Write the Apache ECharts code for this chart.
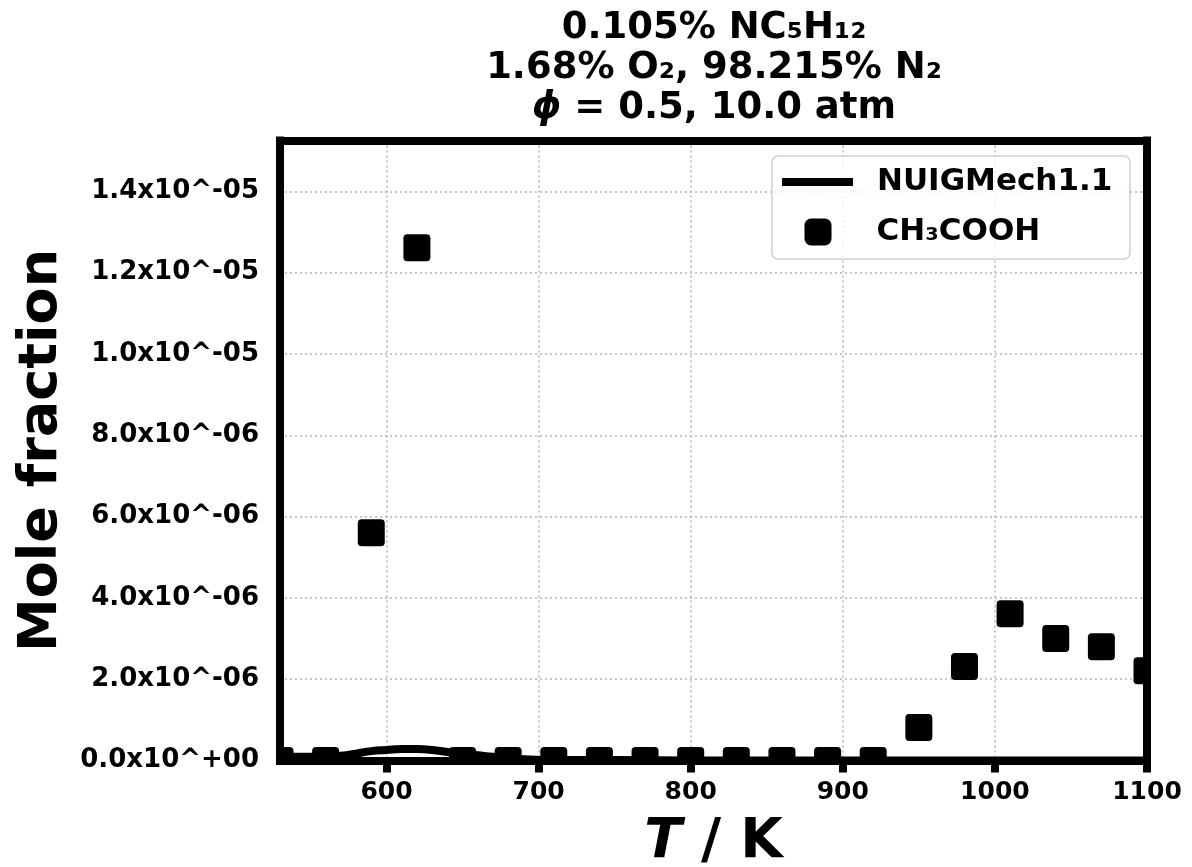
<!DOCTYPE html>
<html>
<head>
<meta charset="utf-8">
<script src="https://cdn.jsdelivr.net/npm/echarts@6/dist/echarts.min.js"></script>
<style>
  html, body { margin: 0; padding: 0; background: #ffffff; }
  #chart { width: 1192px; height: 867px; }
</style>
</head>
<body>
<div id="chart"></div>
<script>
// Temperature ticks (K) and mole-fraction ticks
const tempTicks = [600, 700, 800, 900, 1000, 1100];
const moleTicks = [0, 2e-6, 4e-6, 6e-6, 8e-6, 1.0e-5, 1.2e-5, 1.4e-5];

// Measured CH3COOH mole fractions (jet-stirred reactor)
const expT = [530, 560, 590, 620, 650, 680, 710, 740, 770, 800, 830, 860, 890, 920, 950, 980, 1010, 1040, 1070, 1100];
const expCH3COOH = [0, 0, 5.60e-6, 1.261e-5, 0, 0, 0, 0, 0, 0, 0, 0, 0, 0, 0.81e-6, 2.31e-6, 3.61e-6, 3.00e-6, 2.80e-6, 2.21e-6];

// NUIGMech1.1 simulation
const modelT = [530, 540, 550, 560, 570, 580, 590, 600, 610, 620, 630, 640, 650, 660, 670, 680, 690, 700, 750, 800, 850, 900, 950, 1000, 1050, 1100];
const modelCH3COOH = [0.09e-6, 0.09e-6, 0.09e-6, 0.10e-6, 0.12e-6, 0.17e-6, 0.23e-6, 0.26e-6, 0.28e-6, 0.28e-6, 0.26e-6, 0.21e-6, 0.17e-6, 0.13e-6, 0.09e-6, 0.06e-6, 0.03e-6, 0.02e-6, 0.01e-6, 0, 0, 0, 0, 0, 0, 0];

const FONT = 'DejaVu Sans';
const SERIES_MODEL = 'NUIGMech1.1';
const SERIES_EXP = 'CH\u2083COOH';

function sciLabel(v) {
  const parts = v.toExponential(1).split('e');
  const n = parseInt(parts[1], 10);
  return parts[0] + 'x10^' + (n < 0 ? '-' : '+') + String(Math.abs(n)).padStart(2, '0');
}

const gridLine = { show: true, lineStyle: { color: '#b3b3b3', width: 1.5, type: [2, 3] } };
const frameLine = { show: true, onZero: false, lineStyle: { color: '#000', width: 8, cap: 'square' } };
const boldText = { fontFamily: FONT, fontWeight: 'bold', color: '#000' };

const chart = echarts.init(document.getElementById('chart'), null, { renderer: 'canvas' });

chart.setOption({
  animation: false,
  backgroundColor: '#ffffff',
  title: {
    text: '0.105% NC\u2085H\u2081\u2082\n1.68% O\u2082, 98.215% N\u2082\n{phi|\u03D5} = 0.5, 10.0 atm',
    left: 714,
    top: 8,
    padding: 0,
    textAlign: 'center',
    textStyle: Object.assign({}, boldText, {
      fontSize: 37, lineHeight: 40,
      rich: { phi: { fontFamily: FONT, fontWeight: 'bold', fontStyle: 'italic', fontSize: 37, lineHeight: 40, color: '#000' } }
    })
  },
  grid: {
    left: 280, right: 45, top: 140.5, bottom: 106.5,
    show: false, containLabel: false, outerBoundsMode: 'none'
  },
  xAxis: [
    {
      type: 'value', min: 530, max: 1100, position: 'bottom',
      name: '{t|T} / K',
      nameLocation: 'middle', nameGap: 55,
      nameTextStyle: Object.assign({}, boldText, {
        fontSize: 55,
        rich: { t: { fontFamily: FONT, fontWeight: 'bold', fontStyle: 'italic', fontSize: 55, color: '#000' } }
      }),
      axisLine: frameLine,
      axisTick: { show: true, inside: false, length: 12, customValues: tempTicks, lineStyle: { color: '#000', width: 8 } },
      axisLabel: Object.assign({}, boldText, { fontSize: 25, margin: 19, customValues: tempTicks, formatter: v => String(v) }),
      splitLine: gridLine
    },
    {
      // top edge of the frame
      type: 'value', min: 530, max: 1100, position: 'top',
      axisLine: frameLine,
      axisTick: { show: false }, axisLabel: { show: false }, splitLine: { show: false }
    }
  ],
  yAxis: [
    {
      type: 'value', min: 0, max: 1.525e-5, position: 'left',
      name: 'Mole fraction',
      nameLocation: 'middle', nameRotate: 90, nameGap: 210,
      nameTextStyle: Object.assign({}, boldText, { fontSize: 54 }),
      axisLine: frameLine,
      axisTick: { show: false, customValues: moleTicks.slice(1) },
      axisLabel: Object.assign({}, boldText, { fontSize: 26, margin: 21, padding: [5, 0, 0, 0], customValues: moleTicks, formatter: sciLabel }),
      splitLine: gridLine
    },
    {
      // right edge of the frame
      type: 'value', min: 0, max: 1.525e-5, position: 'right',
      axisLine: frameLine,
      axisTick: { show: false }, axisLabel: { show: false }, splitLine: { show: false }
    }
  ],
  legend: [
    {
      data: [{ name: SERIES_MODEL, icon: 'rect', itemStyle: { color: '#000' } }],
      left: 782, top: 164, padding: 0, itemGap: 0,
      itemWidth: 71, itemHeight: 8, z: 20,
      textStyle: Object.assign({}, boldText, { fontSize: 31, lineHeight: 36, padding: [0, 0, 0, 19] })
    },
    {
      data: [{ name: SERIES_EXP, icon: 'roundRect', itemStyle: { color: '#000' } }],
      left: 804.5, top: 214, padding: 0, itemGap: 0,
      itemWidth: 27, itemHeight: 27, z: 20,
      textStyle: Object.assign({}, boldText, { fontSize: 31, lineHeight: 36, padding: [0, 0, 0, 40] })
    }
  ],
  graphic: [
    {
      // legend frame
      type: 'rect', z: 10,
      shape: { x: 772, y: 156, width: 358, height: 103, r: 6 },
      style: { fill: 'rgba(255,255,255,0.8)', stroke: '#d0d0d0', lineWidth: 1.5 }
    }
  ],
  series: [
    {
      name: SERIES_MODEL,
      type: 'line',
      data: modelT.map((t, i) => [t, modelCH3COOH[i]]),
      showSymbol: false,
      smooth: true,
      clip: true,
      z: 2,
      color: '#000',
      itemStyle: { color: '#000' },
      lineStyle: { color: '#000', width: 8 }
    },
    {
      name: SERIES_EXP,
      type: 'custom',
      data: expT.map((t, i) => [t, expCH3COOH[i]]),
      encode: { x: 0, y: 1 },
      clip: true,
      z: 3,
      itemStyle: { color: '#000' },
      renderItem: function (params, api) {
        const c = api.coord([api.value(0), api.value(1)]);
        const s = 27;
        return {
          type: 'rect',
          shape: { x: c[0] - s / 2, y: c[1] - s / 2, width: s, height: s, r: 4 },
          style: { fill: '#000' }
        };
      }
    }
  ]
});
</script>
</body>
</html>
